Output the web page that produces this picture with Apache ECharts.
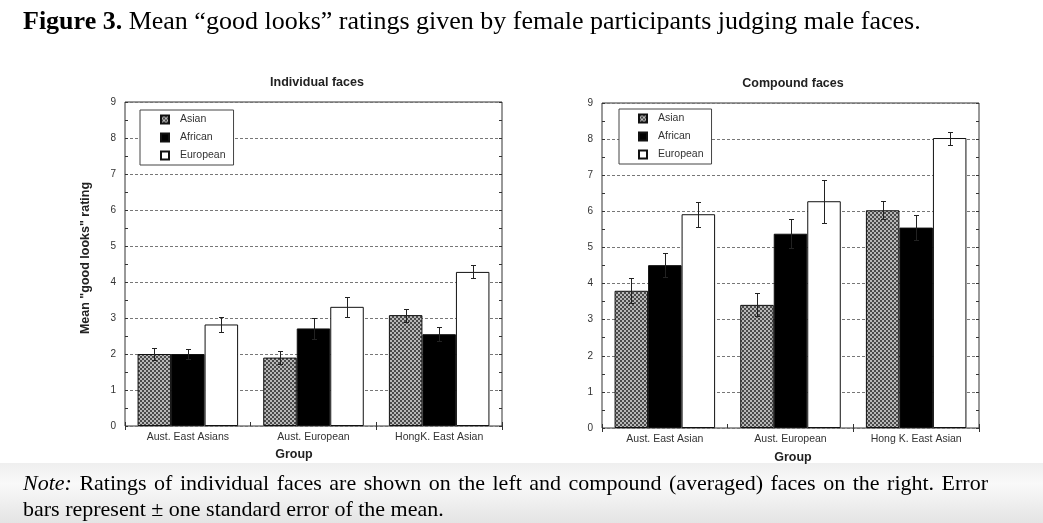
<!DOCTYPE html>
<html>
<head>
<meta charset="utf-8">
<script src="https://cdn.jsdelivr.net/npm/echarts@6/dist/echarts.min.js"></script>
<style>
  html, body { margin: 0; padding: 0; background: #fff; }
  #main { width: 1043px; height: 523px; }
</style>
</head>
<body>
<div id="main"></div>
<script>
// 数据
var groupsLeft = ['Aust. East Asians', 'Aust. European', 'HongK. East Asian'];
var groupsRight = ['Aust. East Asian', 'Aust. European', 'Hong K. East Asian'];
var faceTypes = ['Asian', 'African', 'European'];
var yTicks = [0, 1, 2, 3, 4, 5, 6, 7, 8, 9];

// Individual faces
var indAsian = [2.0, 1.9, 3.08];
var indAfrican = [2.0, 2.71, 2.55];
var indEuropean = [2.82, 3.31, 4.28];
var indAsianSE = [0.16, 0.19, 0.18];
var indAfricanSE = [0.15, 0.28, 0.19];
var indEuropeanSE = [0.21, 0.28, 0.18];

// Compound faces
var cmpAsian = [3.8, 3.41, 6.03];
var cmpAfrican = [4.51, 5.38, 5.55];
var cmpEuropean = [5.92, 6.28, 8.03];
var cmpAsianSE = [0.35, 0.32, 0.25];
var cmpAfricanSE = [0.34, 0.40, 0.34];
var cmpEuropeanSE = [0.34, 0.60, 0.18];

// 棋盘格填充
var pat = document.createElement('canvas');
pat.width = 4; pat.height = 4;
var pc = pat.getContext('2d');
pc.fillStyle = '#b8b8b8'; pc.fillRect(0, 0, 4, 4);
pc.fillStyle = '#4a4a4a'; pc.fillRect(0, 0, 2, 2); pc.fillRect(2, 2, 2, 2);
var asianFill = { image: pat, repeat: 'repeat' };

var sansFont = 'Liberation Sans, Arial, sans-serif';
var serifFont = 'Liberation Serif, Times New Roman, serif';

function errData(seArrs, meanArrs) {
  var out = [];
  for (var k = 0; k < 3; k++) {
    for (var i = 0; i < 3; i++) {
      out.push([i, meanArrs[k][i], seArrs[k][i], k]);
    }
  }
  return out;
}

function errRender(params, api) {
  var cat = api.value(0), mean = api.value(1), se = api.value(2), k = api.value(3);
  var band = api.size([1, 0])[0];
  var w = band * 0.8 / 3;
  var x = Math.round(api.coord([cat, mean])[0] - band * 0.4 + w * (k + 0.5)) + 0.5;
  var yT = Math.round(api.coord([cat, mean + se])[1]) + 0.5;
  var yB = Math.round(api.coord([cat, mean - se])[1]) + 0.5;
  var st = { stroke: '#222', lineWidth: 1 };
  return {
    type: 'group',
    children: [
      { type: 'line', shape: { x1: x, y1: yT, x2: x, y2: yB }, style: st },
      { type: 'line', shape: { x1: x - 2.5, y1: yT, x2: x + 2.5, y2: yT }, style: st },
      { type: 'line', shape: { x1: x - 2.5, y1: yB, x2: x + 2.5, y2: yB }, style: st }
    ]
  };
}

function xAxes(cats, gi) {
  return [
    {
      type: 'category', gridIndex: gi, data: cats, position: 'bottom',
      axisLine: { show: false },
      axisTick: { show: true, inside: true, length: 4, lineStyle: { color: '#333' } },
      axisLabel: { fontFamily: sansFont, fontSize: 10.5, color: '#333', margin: 6 }
    },
    {
      type: 'category', gridIndex: gi, data: cats, position: 'top',
      axisLine: { show: false },
      axisTick: { show: true, inside: true, length: 4, lineStyle: { color: '#333' } },
      axisLabel: { show: false }
    }
  ];
}

function yAxes(gi) {
  var base = {
    type: 'value', gridIndex: gi, min: 0, max: 9, interval: 1,
    axisLine: { show: false },
    axisTick: { show: true, inside: true, length: 3, lineStyle: { color: '#333' } },
    minorTick: { show: true, splitNumber: 2, length: 3, lineStyle: { color: '#333' } }
  };
  var left = Object.assign({}, base, {
    position: 'left',
    axisLabel: { fontFamily: sansFont, fontSize: 10, color: '#333', margin: 9,
      formatter: function (v) { return yTicks.indexOf(v) >= 0 ? String(v) : ''; } },
    splitLine: { show: true, lineStyle: { color: '#777', type: [3, 2], width: 1 } }
  });
  var right = Object.assign({}, base, {
    position: 'right',
    axisLabel: { show: false },
    splitLine: { show: false }
  });
  return [left, right];
}

function barSeries(gi, arrs, seArrs) {
  var fills = [asianFill, '#000', '#fff'];
  var s = [];
  for (var k = 0; k < 3; k++) {
    s.push({
      name: faceTypes[k], type: 'bar',
      xAxisIndex: gi * 2, yAxisIndex: gi * 2,
      data: arrs[k],
      barGap: '0%', barCategoryGap: '20%',
      itemStyle: { color: fills[k], borderColor: '#111', borderWidth: 1 },
      emphasis: { disabled: true }
    });
  }
  s.push({
    type: 'custom', xAxisIndex: gi * 2, yAxisIndex: gi * 2,
    renderItem: errRender, data: errData(seArrs, arrs), z: 5, silent: true
  });
  return s;
}

function legendAt(left, top, padLeft) {
  return {
    data: faceTypes, orient: 'vertical', left: left, top: top,
    backgroundColor: '#fff', borderColor: '#444', borderWidth: 1,
    padding: [4, 8, 4, padLeft],
    itemWidth: 8, itemHeight: 8, itemGap: 7,
    icon: 'rect',
    textStyle: { fontFamily: sansFont, fontSize: 10.5, color: '#333', padding: [0, 0, 0, 6] },
    selectedMode: false
  };
}

var labelStyle = { fontFamily: sansFont, fontSize: 12.5, fontWeight: 'bold', fill: '#222' };

// 注释第一行两端对齐：把空格换成稍宽的空格
var noteLine1 = 'Ratings of individual faces are shown on the left and compound (averaged) faces on the right. Error';
var noteLine2 = 'bars represent ± one standard error of the mean.';
var noteText = '{i|Note:}{s| }' + noteLine1.split(' ').join('{s| }') + '\n' + noteLine2;

var chart = echarts.init(document.getElementById('main'));

var option = {
  animation: false,
  backgroundColor: '#fff',
  graphic: [
    {
      type: 'rect', z: -10, silent: true,
      shape: { x: 0, y: 463, width: 1043, height: 60 },
      style: {
        fill: new echarts.graphic.LinearGradient(0, 0, 0, 1, [
          { offset: 0, color: '#efefef' },
          { offset: 0.35, color: '#f9f9f9' },
          { offset: 1, color: '#e4e4e4' }
        ])
      }
    },
    {
      type: 'text', x: 86, y: 258, rotation: Math.PI / 2, silent: true,
      style: Object.assign({ text: 'Mean "good looks" rating', align: 'center', verticalAlign: 'middle' }, labelStyle)
    },
    {
      type: 'text', x: 294, y: 455, silent: true,
      style: Object.assign({ text: 'Group', align: 'center', verticalAlign: 'middle' }, labelStyle)
    },
    {
      type: 'text', x: 793, y: 458, silent: true,
      style: Object.assign({ text: 'Group', align: 'center', verticalAlign: 'middle' }, labelStyle)
    }
  ],
  title: [
    {
      text: '{b|Figure 3.} Mean “good looks” ratings given by female participants judging male faces.',
      left: 18, top: 4,
      textStyle: {
        fontFamily: serifFont, fontSize: 26, fontWeight: 'normal', color: '#000',
        rich: { b: { fontFamily: serifFont, fontSize: 26, fontWeight: 'bold', color: '#000' } }
      }
    },
    {
      text: 'Individual faces', left: 312, top: 71, textAlign: 'center',
      textStyle: { fontFamily: sansFont, fontSize: 12.5, fontWeight: 'bold', color: '#222' }
    },
    {
      text: 'Compound faces', left: 788, top: 72, textAlign: 'center',
      textStyle: { fontFamily: sansFont, fontSize: 12.5, fontWeight: 'bold', color: '#222' }
    },
    {
      text: noteText,
      left: 18, top: 466,
      textStyle: {
        fontFamily: serifFont, fontSize: 22, fontWeight: 'normal', color: '#000', lineHeight: 26,
        rich: {
          i: { fontFamily: serifFont, fontSize: 22, fontStyle: 'italic', color: '#000', lineHeight: 26 },
          s: { fontFamily: serifFont, fontSize: 22, color: '#000', lineHeight: 26, width: 7.5 }
        }
      }
    }
  ],
  legend: [legendAt(140, 110, 20), legendAt(619, 109, 19)],
  grid: [
    { left: 125, top: 102, width: 377, height: 324, show: true, borderColor: '#333', borderWidth: 1, backgroundColor: 'transparent' },
    { left: 602, top: 103, width: 377, height: 325, show: true, borderColor: '#333', borderWidth: 1, backgroundColor: 'transparent' }
  ],
  xAxis: xAxes(groupsLeft, 0).concat(xAxes(groupsRight, 1)),
  yAxis: yAxes(0).concat(yAxes(1)),
  series: barSeries(0, [indAsian, indAfrican, indEuropean], [indAsianSE, indAfricanSE, indEuropeanSE])
    .concat(barSeries(1, [cmpAsian, cmpAfrican, cmpEuropean], [cmpAsianSE, cmpAfricanSE, cmpEuropeanSE]))
};

chart.setOption(option);
</script>
</body>
</html>
